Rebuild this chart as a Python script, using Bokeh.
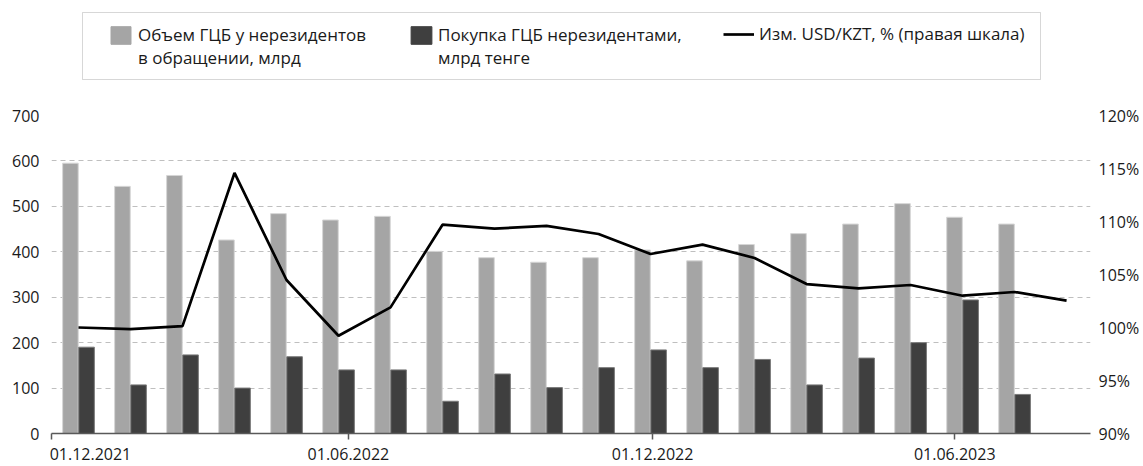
from bokeh.plotting import figure
from bokeh.layouts import column
from bokeh.models import (Range1d, LinearAxis, FixedTicker, PrintfTickFormatter,
                          Legend, LegendItem, ColumnDataSource, BoxAnnotation)
from bokeh.embed import file_html
from bokeh.resources import INLINE

# ---- data ----
months = ["12.2021", "01.2022", "02.2022", "03.2022", "04.2022", "05.2022", "06.2022",
          "07.2022", "08.2022", "09.2022", "10.2022", "11.2022", "12.2022", "01.2023",
          "02.2023", "03.2023", "04.2023", "05.2023", "06.2023", "07.2023"]
volume_nonres = [595, 544, 568, 426, 484, 470, 478, 401, 387, 377, 387, 404, 380,
                 416, 440, 461, 506, 476, 461]
purchase_nonres = [190, 107, 173, 100, 169, 140, 140, 71, 131, 101, 145, 184, 145,
                   163, 107, 166, 200, 294, 86]
usd_kzt_change = [100.0, 99.85, 100.13, 114.58, 104.48, 99.22, 101.90, 109.70, 109.33,
                  109.58, 108.82, 106.93, 107.82, 106.56, 104.10, 103.69, 104.01, 103.0,
                  103.35, 102.53]
tick_labels = ["01.12.2021", "01.06.2022", "01.12.2022", "01.06.2023"]
left_ticks = [0, 100, 200, 300, 400, 500, 600, 700]
right_ticks = [90, 95, 100, 105, 110, 115, 120]
legend_line1 = ["Объем ГЦБ у нерезидентов", "Покупка ГЦБ нерезидентами,",
                "Изм. USD/KZT, % (правая шкала)"]
legend_line2 = ["в обращении, млрд", "млрд тенге"]

FONT = "Open Sans"
GRAY = "#a5a5a5"
DARK = "#3f3f3f"
TXT = "#1a1a1a"
idx = list(range(len(months)))
bar_idx = idx[:len(volume_nonres)]
off = 0.155
bw = 0.30
NAN = float("nan")

bar_src = ColumnDataSource(dict(
    xg=[i - off for i in bar_idx], xd=[i + off for i in bar_idx],
    vol=volume_nonres, pur=purchase_nonres))
line_src = ColumnDataSource(dict(x=idx, y=usd_kzt_change))

# ---------------- main chart ----------------
p = figure(width=1143, height=366, output_backend="svg", toolbar_location=None,
           x_range=Range1d(-0.519, 19.46), y_range=Range1d(0, 700),
           min_border_left=51, min_border_right=53, min_border_top=15,
           min_border_bottom=33, outline_line_color=None)
p.extra_y_ranges = {"pct": Range1d(90, 120)}

p.vbar(x="xg", top="vol", width=bw, source=bar_src,
       fill_color=GRAY, line_color="#d6d6d6", line_width=1)
p.vbar(x="xd", top="pur", width=bw, source=bar_src,
       fill_color=DARK, line_color="#7a7a7a", line_width=1)
p.line(x="x", y="y", source=line_src, y_range_name="pct",
       line_color="black", line_width=2.7)

p.xgrid.grid_line_color = None
p.ygrid.grid_line_color = "#bfbfbf"
p.ygrid.grid_line_dash = "5 4"
p.ygrid.grid_line_width = 1
p.ygrid.ticker = FixedTicker(ticks=left_ticks)

# tick marks (minor ticks) at the date positions, labels (major ticks) where text sits
tick_marks = [-0.519, 5.19, 11.04, 16.85]
label_pos = [0.23, 5.19, 11.04, 16.85]
xa = p.xaxis[0]
xa.ticker = FixedTicker(ticks=label_pos, minor_ticks=tick_marks)
xa.major_label_overrides = {t: lab for t, lab in zip(label_pos, tick_labels)}
xa.axis_line_color = "#595959"
xa.axis_line_width = 1.5
xa.major_tick_line_color = None
xa.major_tick_in = 0
xa.major_tick_out = 0
xa.minor_tick_line_color = "#595959"
xa.minor_tick_line_width = 1.5
xa.minor_tick_in = 0
xa.minor_tick_out = 6
xa.major_label_text_font = FONT
xa.major_label_text_font_size = "16px"
xa.major_label_text_color = TXT
xa.major_label_standoff = 8

ya = p.yaxis[0]
ya.ticker = FixedTicker(ticks=left_ticks)
ya.axis_line_color = None
ya.major_tick_line_color = None
ya.major_tick_in = 0
ya.major_tick_out = 0
ya.minor_tick_line_color = None
ya.major_label_text_font = FONT
ya.major_label_text_font_size = "16px"
ya.major_label_text_color = TXT
ya.major_label_standoff = 12

ra = LinearAxis(y_range_name="pct", ticker=FixedTicker(ticks=right_ticks),
                formatter=PrintfTickFormatter(format="%d%%"))
ra.axis_line_color = None
ra.major_tick_line_color = None
ra.major_tick_in = 0
ra.major_tick_out = 0
ra.minor_tick_line_color = None
ra.major_label_text_font = FONT
ra.major_label_text_font_size = "16px"
ra.major_label_text_color = TXT
ra.major_label_standoff = 8
p.add_layout(ra, "right")

# ---------------- legend strip ----------------
# its frame is aligned with the chart frame (51..1090 px)
lf = figure(width=1143, height=100, output_backend="svg", toolbar_location=None,
            x_range=Range1d(51, 1090), y_range=Range1d(100, 0),
            min_border_left=51, min_border_right=53, min_border_top=0,
            min_border_bottom=0, outline_line_color=None)
lf.axis.visible = False
lf.grid.grid_line_color = None

g1 = lf.vbar(x=[NAN], top=[NAN], width=1, fill_color=GRAY, line_color=GRAY)
g2 = lf.vbar(x=[NAN], top=[NAN], width=1, fill_color=DARK, line_color=DARK)
g3 = lf.line(x=[NAN], y=[NAN], line_color="black", line_width=2.7)
g0 = lf.vbar(x=[NAN], top=[NAN], width=1, fill_alpha=0, line_alpha=0)

def add_leg(label, rend, vx, vy, gw, gh, standoff):
    lg = Legend(items=[LegendItem(label=label, renderers=[rend])],
                location=(vx, vy), orientation="horizontal",
                border_line_color=None, background_fill_alpha=0,
                padding=0, margin=0, spacing=0,
                glyph_width=gw, glyph_height=gh, label_standoff=standoff,
                label_text_font=FONT, label_text_font_size="17px",
                label_text_color=TXT, label_text_line_height=1.18)
    lf.add_layout(lg, "center")

add_leg(legend_line1[0], g1, 57, 54, 25, 22, 5)
add_leg(legend_line2[0], g0, 57, 31, 25, 18, 5)
add_leg(legend_line1[1], g2, 357, 54, 26, 22, 4)
add_leg(legend_line2[1], g0, 357, 31, 26, 18, 4)
add_leg(legend_line1[2], g3, 672, 55, 31, 18, 5)

lf.add_layout(BoxAnnotation(left=82, right=1040, top=12, bottom=79,
                            fill_alpha=0, line_color="#7a7a7a", line_width=1))

open("out.html", "w").write(file_html(column(lf, p, spacing=0), INLINE))
